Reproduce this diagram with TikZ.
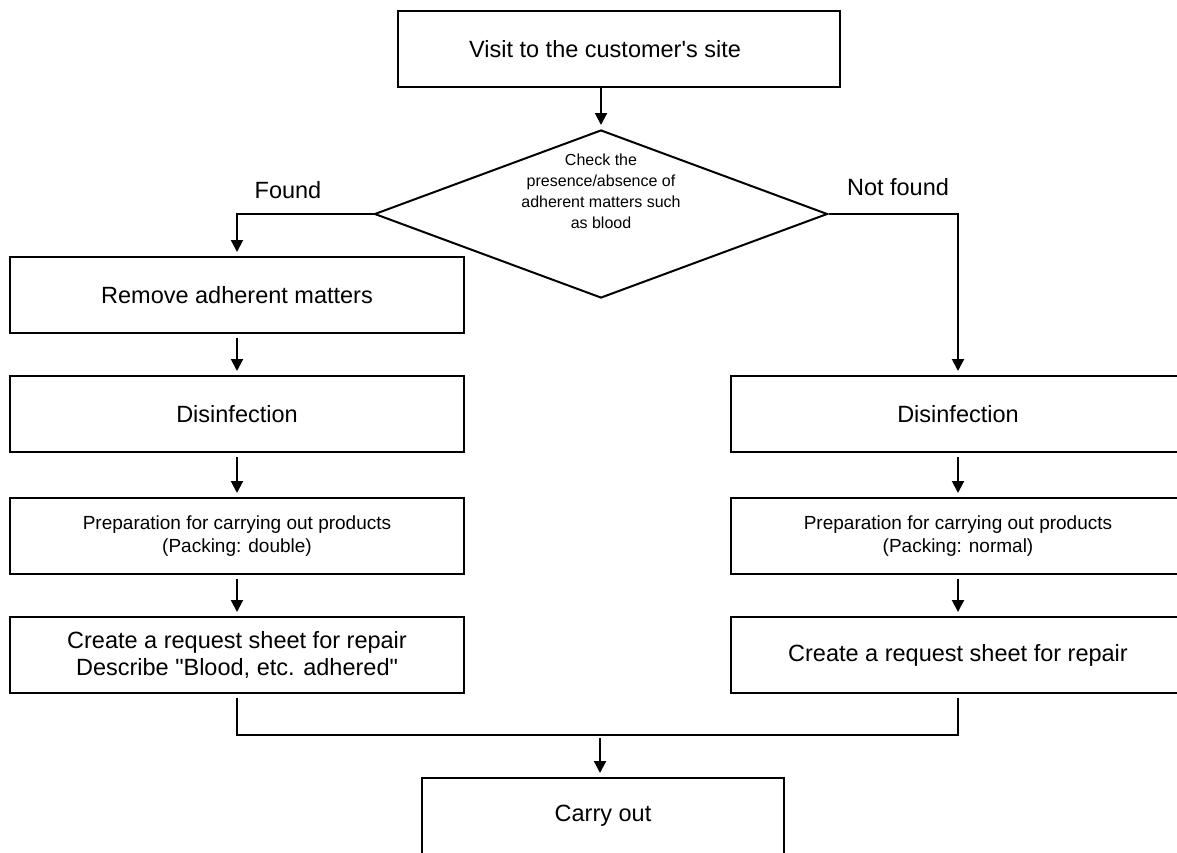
\documentclass[tikz,border=0pt]{standalone}
\usepackage{fontspec}
\setmainfont{Liberation Sans}
\usetikzlibrary{shapes.geometric,arrows.meta}
\begin{document}
\begin{tikzpicture}[x=0.5pt,y=-0.5pt,
    box/.style={draw,line width=1pt,minimum width=227pt,minimum height=38pt,
      align=center,inner sep=0pt,font=\fontsize{11.75}{13.5}\selectfont},
    smallbox/.style={box,font=\fontsize{9.5}{11.5}\selectfont},
    arr/.style={-{Triangle[length=6pt,width=6pt]},line width=1pt,shorten >=2pt},
    lbl/.style={font=\fontsize{11.75}{13.5}\selectfont}]
       \useasboundingbox (0,0) rectangle (1177,852);
       % top
       \node [box,minimum width=221pt] (visit) at (619,49) {Visit to the customer\textquotesingle s site\hspace*{14pt}};
       \node [draw,diamond,line width=1pt,aspect=2.7,minimum width=226.5pt,minimum height=84pt,
              inner sep=0pt] (check) at (601,214) {};
       \node [align=center,font=\fontsize{8}{10.5}\selectfont] (checktext) at (601,191)
             {Check the\\presence/absence of\\adherent matters such\\as blood};
       \node [lbl] (found) at (288,190) {Found};
       \node [lbl] (notfound) at (898,187) {Not found};
       % left side
       \node [box] (remove) at (237,295) {Remove adherent matters};
       \node [box] (disL) at (237,414) {Disinfection};
       \node [smallbox] (prepL) at (237,536) {Preparation for carrying out products\\(Packing: double)};
       \node [box] (reqL) at (237,655) {Create a request sheet for repair\\Describe \textquotedbl Blood, etc. adhered\textquotedbl};
       % right side
       \node [box] (disR) at (958,414) {Disinfection};
       \node [smallbox] (prepR) at (958,536) {Preparation for carrying out products\\(Packing: normal)};
       \node [box] (reqR) at (958,655) {Create a request sheet for repair};
       % bottom
       \coordinate (join) at (600,735);
       \node [box,minimum width=181pt] (carry) at (603,816) {Carry out};
       \draw [arr] (check.north |- visit.south) -- (check.north);
       \draw [arr] (check.west) -| (remove.north);
       \draw [arr] (check.east) -| (disR.north);
       \draw [arr,shorten <=2pt] (remove) -- (disL);
       \draw [arr,shorten <=2pt] (disL) -- (prepL);
       \draw [arr,shorten <=2pt] (prepL) -- (reqL);
       \draw [arr,shorten <=2pt] (disR) -- (prepR);
       \draw [arr,shorten <=2pt] (prepR) -- (reqR);
       \draw [line width=1pt] ([yshift=-2pt]reqL.south) |- (join) -| ([yshift=-2pt]reqR.south);
       \draw [arr] ([yshift=-1.5pt]join) -- (join |- carry.north);
     \end{tikzpicture}
\end{document}
